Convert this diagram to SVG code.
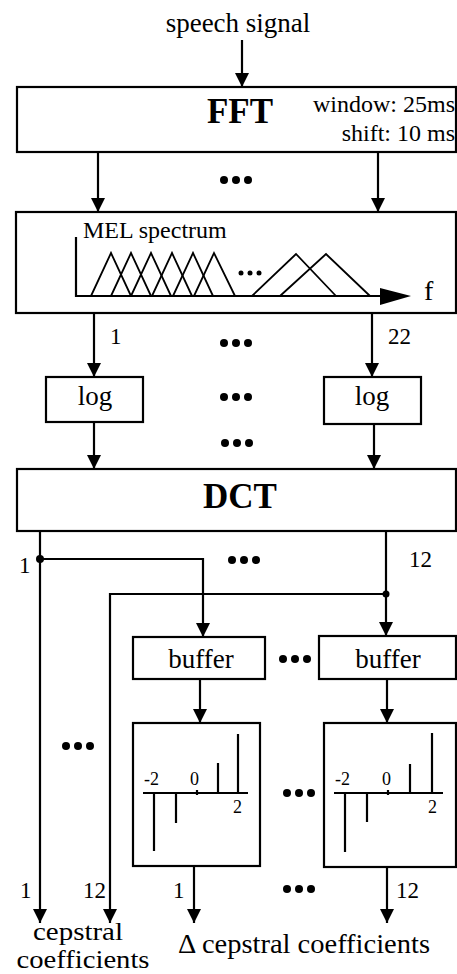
<svg xmlns="http://www.w3.org/2000/svg" width="457" height="974" viewBox="0 0 457 974">
<style>
.box{fill:#fff;stroke:#000;stroke-width:2.2}
.ln{fill:none;stroke:#000;stroke-width:2.2}
.thin{fill:none;stroke:#000;stroke-width:1.8}
.t{font-family:"Liberation Serif","Times New Roman",serif;fill:#000}
.lab{font-size:27px}
.big{font-size:35px;font-weight:bold}
.med{font-size:24px}
.num{font-size:23px}
.sm{font-size:18px}
.dot{fill:#000}
</style>
<defs>
<marker id="ah" markerUnits="userSpaceOnUse" markerWidth="16" markerHeight="16" refX="14" refY="7" orient="auto">
<path d="M0,0 L14,7 L0,14 z" fill="#000"/>
</marker>
<g id="dots3">
<circle cx="0" cy="0" r="4"/><circle cx="12" cy="0" r="4"/><circle cx="24" cy="0" r="4"/>
</g>
</defs>
<rect width="457" height="974" fill="#fff"/>

<text class="t lab" x="238" y="32" text-anchor="middle">speech signal</text>

<g id="connectors">
<line class="ln" x1="242" y1="40" x2="242" y2="87" marker-end="url(#ah)"/>
<line class="ln" x1="98" y1="152" x2="98" y2="212" marker-end="url(#ah)"/>
<line class="ln" x1="378" y1="152" x2="378" y2="212" marker-end="url(#ah)"/>
<line class="ln" x1="94" y1="313" x2="94" y2="377" marker-end="url(#ah)"/>
<line class="ln" x1="372" y1="313" x2="372" y2="377" marker-end="url(#ah)"/>
<line class="ln" x1="94" y1="422" x2="94" y2="469" marker-end="url(#ah)"/>
<line class="ln" x1="374" y1="424" x2="374" y2="469" marker-end="url(#ah)"/>
<line class="ln" x1="40" y1="531" x2="40" y2="923" marker-end="url(#ah)"/>
<path class="ln" d="M40,559 H203 V637" marker-end="url(#ah)"/>
<circle cx="40" cy="559" r="4" fill="#000"/>
<line class="ln" x1="386" y1="531" x2="386" y2="636" marker-end="url(#ah)"/>
<path class="ln" d="M386,594 H110 V923" marker-end="url(#ah)"/>
<circle cx="386" cy="594" r="3.5" fill="#000"/>
<line class="ln" x1="200" y1="679" x2="200" y2="723" marker-end="url(#ah)"/>
<line class="ln" x1="387" y1="679" x2="387" y2="723" marker-end="url(#ah)"/>
<line class="ln" x1="194" y1="866" x2="194" y2="923" marker-end="url(#ah)"/>
<line class="ln" x1="387" y1="867" x2="387" y2="923" marker-end="url(#ah)"/>
</g>

<g id="fft">
<rect class="box" x="17" y="87" width="439" height="65"/>
<text class="t big" x="240" y="123" text-anchor="middle">FFT</text>
<text class="t med" x="455" y="112" text-anchor="end">window: 25ms</text>
<text class="t med" x="455" y="141" text-anchor="end">shift: 10 ms</text>
</g>

<g id="mel">
<rect class="box" x="16" y="212" width="440" height="101"/>
<text class="t med" x="83" y="238">MEL spectrum</text>
<path class="ln" d="M76,237 V296 H395"/>
<path d="M380,288 L411,296 L380,305 z" fill="#000"/>
<text class="t" style="font-size:28px" x="424" y="300">f</text>
<g class="thin">
<path d="M91,296 L111,253 L131,296"/>
<path d="M111,296 L131,253 L151,296"/>
<path d="M131,296 L151,253 L171,296"/>
<path d="M152,296 L172,253 L192,296"/>
<path d="M173,296 L193,253 L213,296"/>
<path d="M194,296 L214,253 L235,296"/>
<path d="M252,296 L296,254 L336,296"/>
<path d="M280,296 L326,254 L370,296"/>
</g>
<circle cx="241" cy="273" r="2.5" class="dot"/>
<circle cx="250" cy="273" r="2.5" class="dot"/>
<circle cx="259" cy="273" r="2.5" class="dot"/>
</g>

<g id="log1">
<rect class="box" x="46" y="377" width="97" height="45"/>
<text class="t lab" x="95" y="405" text-anchor="middle">log</text>
</g>
<g id="log2">
<rect class="box" x="324" y="377" width="97" height="47"/>
<text class="t lab" x="372" y="405" text-anchor="middle">log</text>
</g>

<g id="dct">
<rect class="box" x="17" y="469" width="439" height="62"/>
<text class="t big" x="240" y="508" text-anchor="middle">DCT</text>
</g>

<g id="buffer1">
<rect class="box" x="133" y="637" width="132" height="42"/>
<text class="t lab" x="201" y="668" text-anchor="middle">buffer</text>
</g>
<g id="buffer2">
<rect class="box" x="319" y="636" width="137" height="43"/>
<text class="t lab" x="388" y="668" text-anchor="middle">buffer</text>
</g>

<g id="delta1">
<rect class="box" x="133" y="723" width="127" height="143"/>
<line class="ln" x1="143" y1="793" x2="248" y2="793"/>
<line class="ln" x1="154" y1="793" x2="154" y2="851"/>
<line class="ln" x1="176" y1="793" x2="176" y2="823"/>
<line class="ln" x1="197" y1="790" x2="197" y2="795"/>
<line class="ln" x1="218" y1="793" x2="218" y2="763"/>
<line class="ln" x1="238" y1="793" x2="238" y2="734"/>
<text class="t sm" x="144" y="785">-2</text>
<text class="t sm" x="190" y="785">0</text>
<text class="t sm" x="233" y="813">2</text>
</g>
<g id="delta2">
<rect class="box" x="324" y="723" width="132" height="144"/>
<line class="ln" x1="334" y1="793" x2="443" y2="793"/>
<line class="ln" x1="345" y1="793" x2="345" y2="852"/>
<line class="ln" x1="367" y1="793" x2="367" y2="822"/>
<line class="ln" x1="388" y1="790" x2="388" y2="795"/>
<line class="ln" x1="410" y1="793" x2="410" y2="764"/>
<line class="ln" x1="432" y1="793" x2="432" y2="733"/>
<text class="t sm" x="335" y="785">-2</text>
<text class="t sm" x="382" y="785">0</text>
<text class="t sm" x="428" y="813">2</text>
</g>

<g id="labels">
<text class="t num" x="110" y="344">1</text>
<text class="t num" x="388" y="344">22</text>
<text class="t num" x="19" y="573">1</text>
<text class="t num" x="409" y="567">12</text>
<text class="t num" x="20" y="898">1</text>
<text class="t num" x="83" y="898">12</text>
<text class="t num" x="173" y="898">1</text>
<text class="t num" x="396" y="898">12</text>
<text class="t" style="font-size:25px" x="78" y="940" text-anchor="middle" textLength="90" lengthAdjust="spacingAndGlyphs">cepstral</text>
<text class="t" style="font-size:25px" x="83" y="968" text-anchor="middle" textLength="133" lengthAdjust="spacingAndGlyphs">coefficients</text>
<text class="t lab" x="304" y="953" text-anchor="middle" textLength="252" lengthAdjust="spacingAndGlyphs">Δ cepstral coefficients</text>
</g>

<g id="ellipses" class="dot">
<use href="#dots3" x="224" y="180"/>
<use href="#dots3" x="224" y="343"/>
<use href="#dots3" x="224" y="397"/>
<use href="#dots3" x="225" y="443"/>
<use href="#dots3" x="232" y="560"/>
<use href="#dots3" x="283" y="659"/>
<use href="#dots3" x="66" y="746"/>
<use href="#dots3" x="287" y="793"/>
<use href="#dots3" x="287" y="889"/>
</g>
</svg>
